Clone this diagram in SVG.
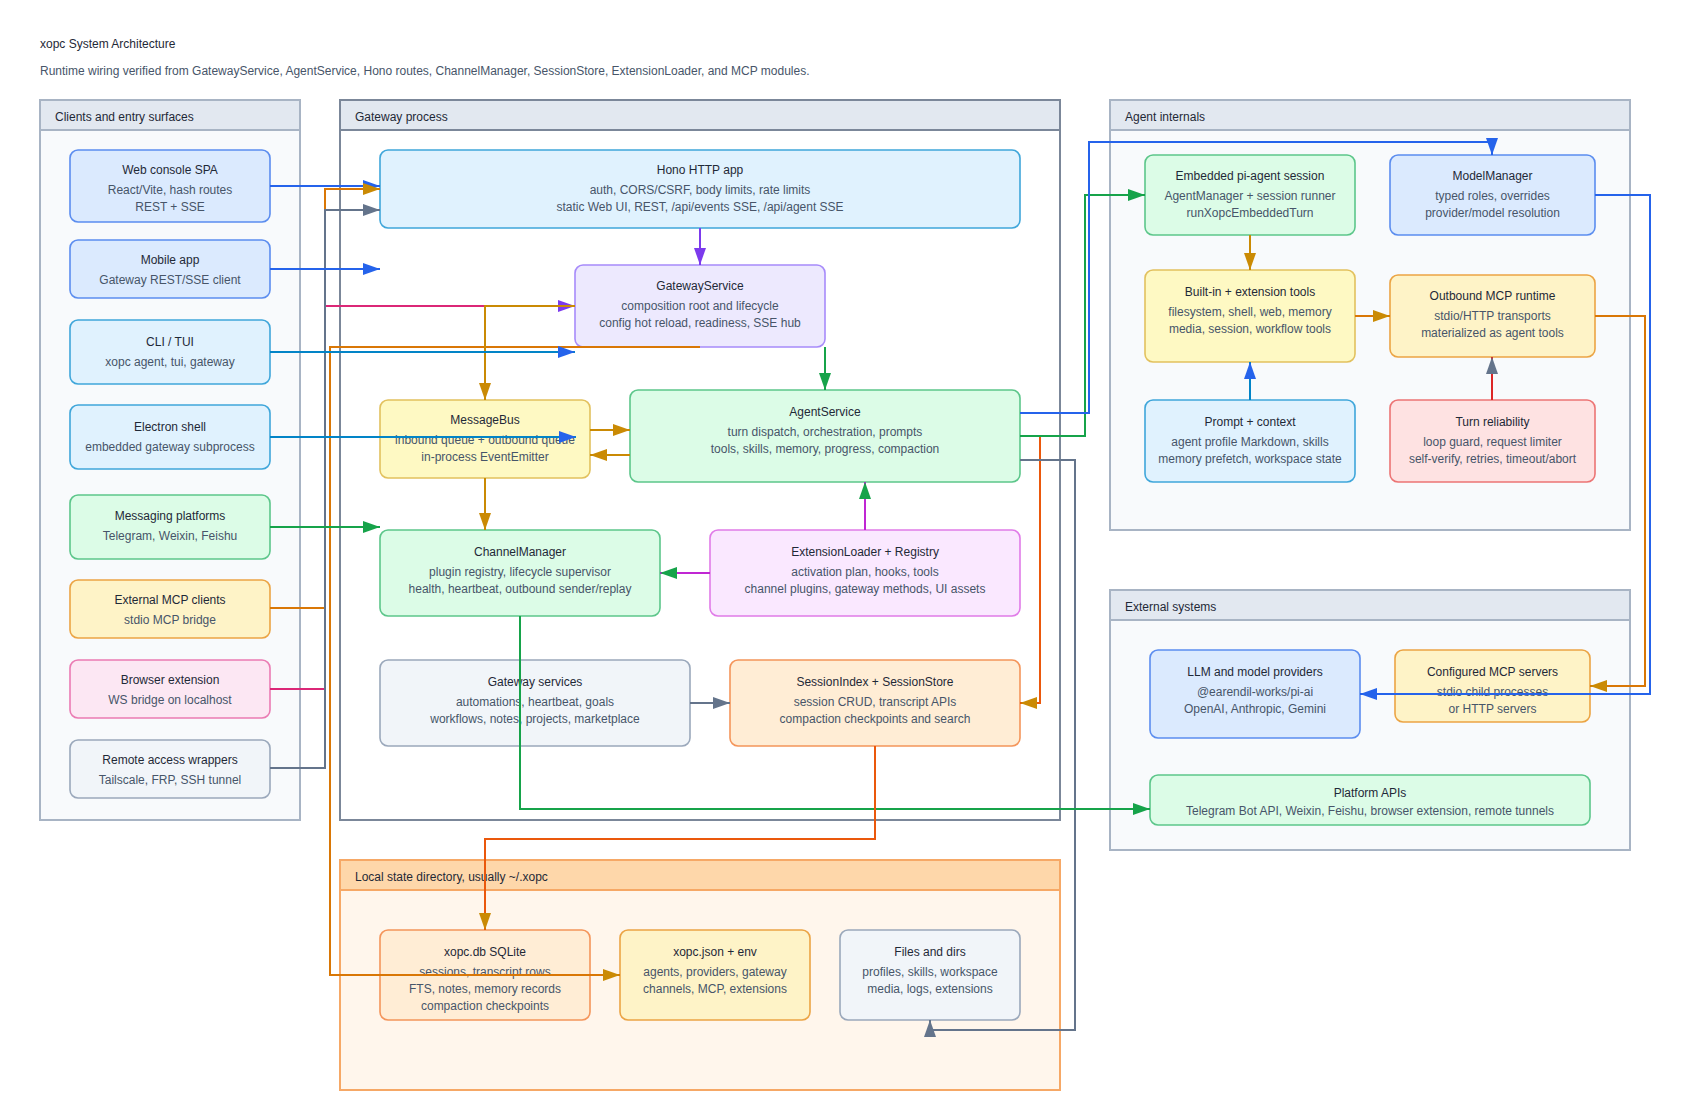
<svg xmlns="http://www.w3.org/2000/svg" width="1700" height="1120" viewBox="0 0 1700 1120">
<style>
text{font-family:"Liberation Sans",Arial,Helvetica,sans-serif;font-size:12px}
.h{fill:#1f2937;text-anchor:middle;dominant-baseline:central}
.s{fill:#475569;text-anchor:middle;dominant-baseline:central}
.cl{fill:#1f2937;dominant-baseline:central}
.n{stroke-width:1.6}
.blue{fill:#dbeafe;stroke:#5b8def}
.sky{fill:#e0f2fe;stroke:#3fa6da}
.green{fill:#dcfce7;stroke:#5cc68a}
.amber{fill:#fef3c7;stroke:#eba444}
.yellow{fill:#fef9c3;stroke:#e2c15e}
.pink{fill:#fce7f3;stroke:#ea7bb3}
.slate{fill:#f1f5f9;stroke:#9aa8bb}
.violet{fill:#ede9fe;stroke:#a78bfa}
.fuchsia{fill:#fae8ff;stroke:#e07be8}
.orange{fill:#ffedd5;stroke:#f4955a}
.red{fill:#fee2e2;stroke:#ec7474}
.c{fill:none;stroke-width:2}
</style>
<defs>
<marker id="mb" viewBox="0 0 17 12" refX="17" refY="6" markerWidth="17" markerHeight="12" orient="auto" markerUnits="userSpaceOnUse"><path d="M0,0 L17,6 L0,12 z" fill="#2563eb"/></marker>
<marker id="mg" viewBox="0 0 17 12" refX="17" refY="6" markerWidth="17" markerHeight="12" orient="auto" markerUnits="userSpaceOnUse"><path d="M0,0 L17,6 L0,12 z" fill="#ca8a04"/></marker>
<marker id="mr" viewBox="0 0 17 12" refX="17" refY="6" markerWidth="17" markerHeight="12" orient="auto" markerUnits="userSpaceOnUse"><path d="M0,0 L17,6 L0,12 z" fill="#64748b"/></marker>
<marker id="mn" viewBox="0 0 17 12" refX="17" refY="6" markerWidth="17" markerHeight="12" orient="auto" markerUnits="userSpaceOnUse"><path d="M0,0 L17,6 L0,12 z" fill="#16a34a"/></marker>
<marker id="mp" viewBox="0 0 17 12" refX="17" refY="6" markerWidth="17" markerHeight="12" orient="auto" markerUnits="userSpaceOnUse"><path d="M0,0 L17,6 L0,12 z" fill="#7c3aed"/></marker>
</defs>
<rect width="1700" height="1120" fill="#ffffff"/>
<text x="40" y="44" class="cl">xopc System Architecture</text>
<text x="40" y="71" style="fill:#475569;dominant-baseline:central">Runtime wiring verified from GatewayService, AgentService, Hono routes, ChannelManager, SessionStore, ExtensionLoader, and MCP modules.</text>

<g id="cluster-clients">
<rect x="40" y="100" width="260" height="720" fill="#f8fafc" stroke="#a8b4c4" stroke-width="2"/>
<rect x="40" y="100" width="260" height="30" fill="#e2e8f0" stroke="#a8b4c4" stroke-width="2"/>
<text x="55" y="117" class="cl">Clients and entry surfaces</text>
</g>
<g id="cluster-gateway">
<rect x="340" y="100" width="720" height="720" fill="#ffffff" stroke="#7b8799" stroke-width="2"/>
<rect x="340" y="100" width="720" height="30" fill="#e2e8f0" stroke="#7b8799" stroke-width="2"/>
<text x="355" y="117" class="cl">Gateway process</text>
</g>
<g id="cluster-agent">
<rect x="1110" y="100" width="520" height="430" fill="#f8fafc" stroke="#a8b4c4" stroke-width="2"/>
<rect x="1110" y="100" width="520" height="30" fill="#e2e8f0" stroke="#a8b4c4" stroke-width="2"/>
<text x="1125" y="117" class="cl">Agent internals</text>
</g>
<g id="cluster-external">
<rect x="1110" y="590" width="520" height="260" fill="#f8fafc" stroke="#a8b4c4" stroke-width="2"/>
<rect x="1110" y="590" width="520" height="30" fill="#e2e8f0" stroke="#a8b4c4" stroke-width="2"/>
<text x="1125" y="607" class="cl">External systems</text>
</g>
<g id="cluster-local">
<rect x="340" y="860" width="720" height="230" fill="#fff6ec" stroke="#f6a866" stroke-width="2"/>
<rect x="340" y="860" width="720" height="30" fill="#fed7aa" stroke="#f6a866" stroke-width="2"/>
<text x="355" y="877" class="cl">Local state directory, usually ~/.xopc</text>
</g>

<g id="web"><rect class="n blue" x="70" y="150" width="200" height="72" rx="8"/><text class="h" x="170" y="170">Web console SPA</text><text class="s" x="170" y="190">React/Vite, hash routes</text><text class="s" x="170" y="207">REST + SSE</text></g>
<g id="mobile"><rect class="n blue" x="70" y="240" width="200" height="58" rx="8"/><text class="h" x="170" y="260">Mobile app</text><text class="s" x="170" y="280">Gateway REST/SSE client</text></g>
<g id="cli"><rect class="n sky" x="70" y="320" width="200" height="64" rx="8"/><text class="h" x="170" y="342">CLI / TUI</text><text class="s" x="170" y="362">xopc agent, tui, gateway</text></g>
<g id="electron"><rect class="n sky" x="70" y="405" width="200" height="64" rx="8"/><text class="h" x="170" y="427">Electron shell</text><text class="s" x="170" y="447">embedded gateway subprocess</text></g>
<g id="messaging"><rect class="n green" x="70" y="495" width="200" height="64" rx="8"/><text class="h" x="170" y="516">Messaging platforms</text><text class="s" x="170" y="536">Telegram, Weixin, Feishu</text></g>
<g id="extmcp"><rect class="n amber" x="70" y="580" width="200" height="58" rx="8"/><text class="h" x="170" y="600">External MCP clients</text><text class="s" x="170" y="620">stdio MCP bridge</text></g>
<g id="browser"><rect class="n pink" x="70" y="660" width="200" height="58" rx="8"/><text class="h" x="170" y="680">Browser extension</text><text class="s" x="170" y="700">WS bridge on localhost</text></g>
<g id="remote"><rect class="n slate" x="70" y="740" width="200" height="58" rx="8"/><text class="h" x="170" y="760">Remote access wrappers</text><text class="s" x="170" y="780">Tailscale, FRP, SSH tunnel</text></g>

<g id="hono"><rect class="n sky" x="380" y="150" width="640" height="78" rx="8"/><text class="h" x="700" y="170">Hono HTTP app</text><text class="s" x="700" y="190">auth, CORS/CSRF, body limits, rate limits</text><text class="s" x="700" y="207">static Web UI, REST, /api/events SSE, /api/agent SSE</text></g>
<g id="gatewayservice"><rect class="n violet" x="575" y="265" width="250" height="82" rx="8"/><text class="h" x="700" y="286">GatewayService</text><text class="s" x="700" y="306">composition root and lifecycle</text><text class="s" x="700" y="323">config hot reload, readiness, SSE hub</text></g>
<g id="messagebus"><rect class="n yellow" x="380" y="400" width="210" height="78" rx="8"/><text class="h" x="485" y="420">MessageBus</text><text class="s" x="485" y="440">inbound queue + outbound queue</text><text class="s" x="485" y="457">in-process EventEmitter</text></g>
<g id="agentservice"><rect class="n green" x="630" y="390" width="390" height="92" rx="8"/><text class="h" x="825" y="412">AgentService</text><text class="s" x="825" y="432">turn dispatch, orchestration, prompts</text><text class="s" x="825" y="449">tools, skills, memory, progress, compaction</text></g>
<g id="channelmanager"><rect class="n green" x="380" y="530" width="280" height="86" rx="8"/><text class="h" x="520" y="552">ChannelManager</text><text class="s" x="520" y="572">plugin registry, lifecycle supervisor</text><text class="s" x="520" y="589">health, heartbeat, outbound sender/replay</text></g>
<g id="extensionloader"><rect class="n fuchsia" x="710" y="530" width="310" height="86" rx="8"/><text class="h" x="865" y="552">ExtensionLoader + Registry</text><text class="s" x="865" y="572">activation plan, hooks, tools</text><text class="s" x="865" y="589">channel plugins, gateway methods, UI assets</text></g>
<g id="gatewayservices"><rect class="n slate" x="380" y="660" width="310" height="86" rx="8"/><text class="h" x="535" y="682">Gateway services</text><text class="s" x="535" y="702">automations, heartbeat, goals</text><text class="s" x="535" y="719">workflows, notes, projects, marketplace</text></g>
<g id="sessionstore"><rect class="n orange" x="730" y="660" width="290" height="86" rx="8"/><text class="h" x="875" y="682">SessionIndex + SessionStore</text><text class="s" x="875" y="702">session CRUD, transcript APIs</text><text class="s" x="875" y="719">compaction checkpoints and search</text></g>

<g id="embedded"><rect class="n green" x="1145" y="155" width="210" height="80" rx="8"/><text class="h" x="1250" y="176">Embedded pi-agent session</text><text class="s" x="1250" y="196">AgentManager + session runner</text><text class="s" x="1250" y="213">runXopcEmbeddedTurn</text></g>
<g id="modelmanager"><rect class="n blue" x="1390" y="155" width="205" height="80" rx="8"/><text class="h" x="1492.5" y="176">ModelManager</text><text class="s" x="1492.5" y="196">typed roles, overrides</text><text class="s" x="1492.5" y="213">provider/model resolution</text></g>
<g id="tools"><rect class="n yellow" x="1145" y="270" width="210" height="92" rx="8"/><text class="h" x="1250" y="292">Built-in + extension tools</text><text class="s" x="1250" y="312">filesystem, shell, web, memory</text><text class="s" x="1250" y="329">media, session, workflow tools</text></g>
<g id="outboundmcp"><rect class="n amber" x="1390" y="275" width="205" height="82" rx="8"/><text class="h" x="1492.5" y="296">Outbound MCP runtime</text><text class="s" x="1492.5" y="316">stdio/HTTP transports</text><text class="s" x="1492.5" y="333">materialized as agent tools</text></g>
<g id="prompt"><rect class="n sky" x="1145" y="400" width="210" height="82" rx="8"/><text class="h" x="1250" y="422">Prompt + context</text><text class="s" x="1250" y="442">agent profile Markdown, skills</text><text class="s" x="1250" y="459">memory prefetch, workspace state</text></g>
<g id="reliability"><rect class="n red" x="1390" y="400" width="205" height="82" rx="8"/><text class="h" x="1492.5" y="422">Turn reliability</text><text class="s" x="1492.5" y="442">loop guard, request limiter</text><text class="s" x="1492.5" y="459">self-verify, retries, timeout/abort</text></g>

<g id="llm"><rect class="n blue" x="1150" y="650" width="210" height="88" rx="8"/><text class="h" x="1255" y="672">LLM and model providers</text><text class="s" x="1255" y="692">@earendil-works/pi-ai</text><text class="s" x="1255" y="709">OpenAI, Anthropic, Gemini</text></g>
<g id="mcpservers"><rect class="n amber" x="1395" y="650" width="195" height="72" rx="8"/><text class="h" x="1492.5" y="672">Configured MCP servers</text><text class="s" x="1492.5" y="692">stdio child processes</text><text class="s" x="1492.5" y="709">or HTTP servers</text></g>
<g id="platformapis"><rect class="n green" x="1150" y="775" width="440" height="50" rx="8"/><text class="h" x="1370" y="793">Platform APIs</text><text class="s" x="1370" y="811">Telegram Bot API, Weixin, Feishu, browser extension, remote tunnels</text></g>

<g id="xopcdb"><rect class="n orange" x="380" y="930" width="210" height="90" rx="8"/><text class="h" x="485" y="952">xopc.db SQLite</text><text class="s" x="485" y="972">sessions, transcript rows</text><text class="s" x="485" y="989">FTS, notes, memory records</text><text class="s" x="485" y="1006">compaction checkpoints</text></g>
<g id="xopcjson"><rect class="n amber" x="620" y="930" width="190" height="90" rx="8"/><text class="h" x="715" y="952">xopc.json + env</text><text class="s" x="715" y="972">agents, providers, gateway</text><text class="s" x="715" y="989">channels, MCP, extensions</text></g>
<g id="files"><rect class="n slate" x="840" y="930" width="180" height="90" rx="8"/><text class="h" x="930" y="952">Files and dirs</text><text class="s" x="930" y="972">profiles, skills, workspace</text><text class="s" x="930" y="989">media, logs, extensions</text></g>

<g id="connectors">
<path class="c" stroke="#2563eb" marker-end="url(#mb)" d="M270,186 H380"/>
<path class="c" stroke="#d97706" marker-end="url(#mg)" d="M270,608 H325 V189 H380"/>
<path class="c" stroke="#db2777" marker-end="url(#mp)" d="M270,689 H325 V306 H575"/>
<path class="c" stroke="#64748b" marker-end="url(#mr)" d="M270,768 H325 V210 H380"/>
<path class="c" stroke="#2563eb" marker-end="url(#mb)" d="M270,269 H380"/>
<path class="c" stroke="#7c3aed" marker-end="url(#mp)" d="M700,228 V265"/>
<path class="c" stroke="#d97706" marker-end="url(#mg)" d="M700,347 H330 V975 H620"/>
<path class="c" stroke="#ca8a04" marker-end="url(#mg)" d="M575,306 H485 V400"/>
<path class="c" stroke="#0284c7" marker-end="url(#mb)" d="M270,352 H575"/>
<path class="c" stroke="#0284c7" marker-end="url(#mb)" d="M270,437 H576"/>
<path class="c" stroke="#16a34a" marker-end="url(#mn)" d="M270,527 H380"/>
<path class="c" stroke="#16a34a" marker-end="url(#mn)" d="M825,347 V390"/>
<path class="c" stroke="#ca8a04" marker-end="url(#mg)" d="M590,430 H630"/>
<path class="c" stroke="#ca8a04" marker-end="url(#mg)" d="M630,455 H590"/>
<path class="c" stroke="#ca8a04" marker-end="url(#mg)" d="M485,478 V530"/>
<path class="c" stroke="#c026d3" marker-end="url(#mn)" d="M710,573 H660"/>
<path class="c" stroke="#c026d3" marker-end="url(#mn)" d="M865,530 V482"/>
<path class="c" stroke="#64748b" marker-end="url(#mr)" d="M690,703 H730"/>
<path class="c" stroke="#ea580c" marker-end="url(#mg)" d="M1020,436 H1040 V703 H1020"/>
<path class="c" stroke="#16a34a" marker-end="url(#mn)" d="M1020,436 H1085 V195 H1145"/>
<path class="c" stroke="#2563eb" marker-end="url(#mb)" d="M1020,413 H1089 V142 H1492 V155"/>
<path class="c" stroke="#64748b" marker-end="url(#mr)" d="M1020,460 H1075 V1030 H930 V1020"/>
<path class="c" stroke="#16a34a" marker-end="url(#mn)" d="M520,616 V809 H1150"/>
<path class="c" stroke="#ea580c" marker-end="url(#mg)" d="M875,746 V839 H485 V930"/>
<path class="c" stroke="#ca8a04" marker-end="url(#mg)" d="M1250,235 V270"/>
<path class="c" stroke="#d97706" marker-end="url(#mg)" d="M1355,316 H1390"/>
<path class="c" stroke="#0284c7" marker-end="url(#mb)" d="M1250,400 V362"/>
<path class="c" stroke="#dc2626" marker-end="url(#mr)" d="M1492,400 V357"/>
<path class="c" stroke="#d97706" marker-end="url(#mg)" d="M1595,316 H1645 V686 H1590"/>
<path class="c" stroke="#2563eb" marker-end="url(#mb)" d="M1595,195 H1650 V694 H1360"/>
</g>
</svg>
